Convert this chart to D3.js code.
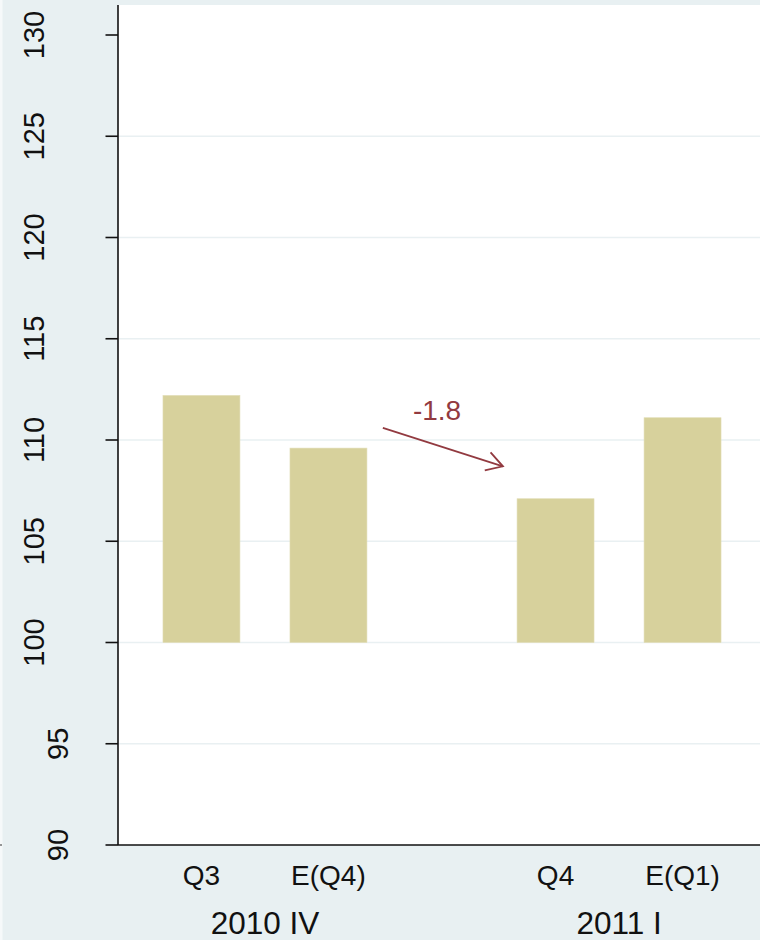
<!DOCTYPE html>
<html>
<head>
<meta charset="utf-8">
<script src="https://cdn.jsdelivr.net/npm/d3@7"></script>
<style>
  html, body { margin: 0; padding: 0; background: #e8f0f2; }
  #chart { width: 760px; height: 940px; }
  text { font-family: 'Liberation Sans', Arial, sans-serif; fill: #111; }
</style>
</head>
<body>
<div id="chart"></div>
<script>
/* global d3 */

// data
const groups = ['2010 IV', '2011 I']
const barLabels = [['Q3', 'E(Q4)'], ['Q4', 'E(Q1)']]
const barValues = [[112.2, 109.6], [107.1, 111.1]]
const baseValue = 100
const yTicks = [90, 95, 100, 105, 110, 115, 120, 125, 130]
const gridTicks = [95, 100, 105, 110, 115, 120, 125]

// arrow between the groups: share of the way from group 1 to group 2, and value
const arrowShare = [0.333, 0.672]
const arrowValues = [110.6, 108.7]
const arrowText = '-1.8'
const arrowTextShare = 0.486
const arrowTextValue = 111.0

let DrawBars = function (id) {
    this.id = id
    this.svgWidth = 760
    this.svgHeight = 940
    this.plot = { left: 118, right: 766, top: 5, bottom: 845 }

    this.svg = d3.select('#' + id).append('svg')
        .attr('width', this.svgWidth)
        .attr('height', this.svgHeight)

    this.barColor = '#d7d19c'
    this.arrowColor = '#923a40'
}

DrawBars.prototype.layout = function () {
    let p = this.plot

    // background + plot region
    this.svg.append('rect')
        .attr('width', this.svgWidth).attr('height', this.svgHeight)
        .style('fill', '#e8f0f2')
    this.svg.append('rect')
        .attr('width', 2.5).attr('height', this.svgHeight)
        .style('fill', '#f6f9fa')
    this.svg.append('rect')
        .attr('x', p.left).attr('y', p.top)
        .attr('width', p.right - p.left).attr('height', p.bottom - p.top)
        .style('fill', '#ffffff')

    let yScale = d3.scaleLinear()
        .domain([90, 130])
        .range([845, 35])

    let xGroup = d3.scalePoint()
        .domain(groups)
        .range([p.left, p.right])
        .padding(0.415)

    let xInner = d3.scaleBand()
        .domain([0, 1])
        .range([-127, 127])
        .paddingInner(0.394)
        .paddingOuter(0.197)

    // gridlines
    this.svg.append('g').attr('class', 'grid')
        .selectAll('line')
        .data(gridTicks)
        .enter()
        .append('line')
        .attr('x1', p.left).attr('x2', p.right)
        .attr('y1', (d) => yScale(d)).attr('y2', (d) => yScale(d))
        .style('stroke', '#e9f0f2')
        .style('stroke-width', 1.5)

    // bars
    let flat = []
    groups.forEach((g, gi) => {
        barValues[gi].forEach((v, bi) => {
            flat.push({ group: g, idx: bi, value: v, label: barLabels[gi][bi] })
        })
    })

    this.svg.append('g').attr('class', 'barchart')
        .selectAll('rect')
        .data(flat)
        .enter()
        .append('rect')
        .attr('x', (d) => xGroup(d.group) + xInner(d.idx))
        .attr('y', (d) => yScale(d.value))
        .attr('width', xInner.bandwidth())
        .attr('height', (d) => yScale(baseValue) - yScale(d.value))
        .style('fill', this.barColor)
        .style('stroke', '#e2ddb6')
        .style('stroke-width', 0.6)

    // y axis
    let yAxis = this.svg.append('g').attr('class', 'y-axis')
    yAxis.append('line')
        .attr('x1', p.left).attr('x2', p.left)
        .attr('y1', p.top).attr('y2', p.bottom)
        .style('stroke', '#111').style('stroke-width', 1.6)
    yAxis.selectAll('.tick')
        .data(yTicks)
        .enter()
        .append('line')
        .attr('x1', p.left - 12.5).attr('x2', p.left)
        .attr('y1', (d) => yScale(d)).attr('y2', (d) => yScale(d))
        .style('stroke', '#111').style('stroke-width', 1.6)
    // labels are rotated; in the picture the shorter ones sit closer to the axis
    yAxis.selectAll('text')
        .data(yTicks)
        .enter()
        .append('text')
        .attr('transform', (d) => 'translate(' + (116 - 24 * String(d).length) + ',' + yScale(d) + ') rotate(-90)')
        .attr('text-anchor', 'middle')
        .style('font-size', '29px')
        .text((d) => d)

    // x axis
    let xAxis = this.svg.append('g').attr('class', 'x-axis')
    xAxis.append('line')
        .attr('x1', p.left).attr('x2', p.right)
        .attr('y1', p.bottom).attr('y2', p.bottom)
        .style('stroke', '#111').style('stroke-width', 1.6)
    xAxis.append('line')
        .attr('x1', 0).attr('x2', 2)
        .attr('y1', p.bottom).attr('y2', p.bottom)
        .style('stroke', '#333').style('stroke-width', 1.2)
    xAxis.selectAll('.bar-label')
        .data(flat)
        .enter()
        .append('text')
        .attr('class', 'bar-label')
        .attr('x', (d) => xGroup(d.group) + xInner(d.idx) + xInner.bandwidth() / 2)
        .attr('y', 885)
        .attr('text-anchor', 'middle')
        .style('font-size', '28px')
        .text((d) => d.label)
    xAxis.selectAll('.group-label')
        .data(groups)
        .enter()
        .append('text')
        .attr('class', 'group-label')
        .attr('x', (d) => xGroup(d))
        .attr('y', 933.5)
        .attr('text-anchor', 'middle')
        .style('font-size', '31.5px')
        .text((d) => d)

    // arrow annotation
    let xBetween = d3.scaleLinear()
        .domain([0, 1])
        .range([xGroup(groups[0]), xGroup(groups[1])])

    this.svg.append('defs').append('marker')
        .attr('id', 'openArrow')
        .attr('markerUnits', 'userSpaceOnUse')
        .attr('viewBox', '-20 -12 24 24')
        .attr('markerWidth', 24).attr('markerHeight', 24)
        .attr('refX', 0).attr('refY', 0)
        .attr('orient', 'auto')
        .append('path')
        .attr('d', 'M-16,-9.5 L0,0 L-16,9.5')
        .style('fill', 'none')
        .style('stroke', this.arrowColor)
        .style('stroke-width', 1.8)

    this.svg.append('line')
        .attr('x1', xBetween(arrowShare[0])).attr('y1', yScale(arrowValues[0]))
        .attr('x2', xBetween(arrowShare[1])).attr('y2', yScale(arrowValues[1]))
        .style('stroke', this.arrowColor)
        .style('stroke-width', 1.8)
        .attr('marker-end', 'url(#openArrow)')

    this.svg.append('text')
        .attr('x', xBetween(arrowTextShare))
        .attr('y', yScale(arrowTextValue))
        .attr('text-anchor', 'middle')
        .style('font-size', '28px')
        .style('fill', this.arrowColor)
        .text(arrowText)
}

let chart = new DrawBars('chart')
chart.layout()
</script>
</body>
</html>
